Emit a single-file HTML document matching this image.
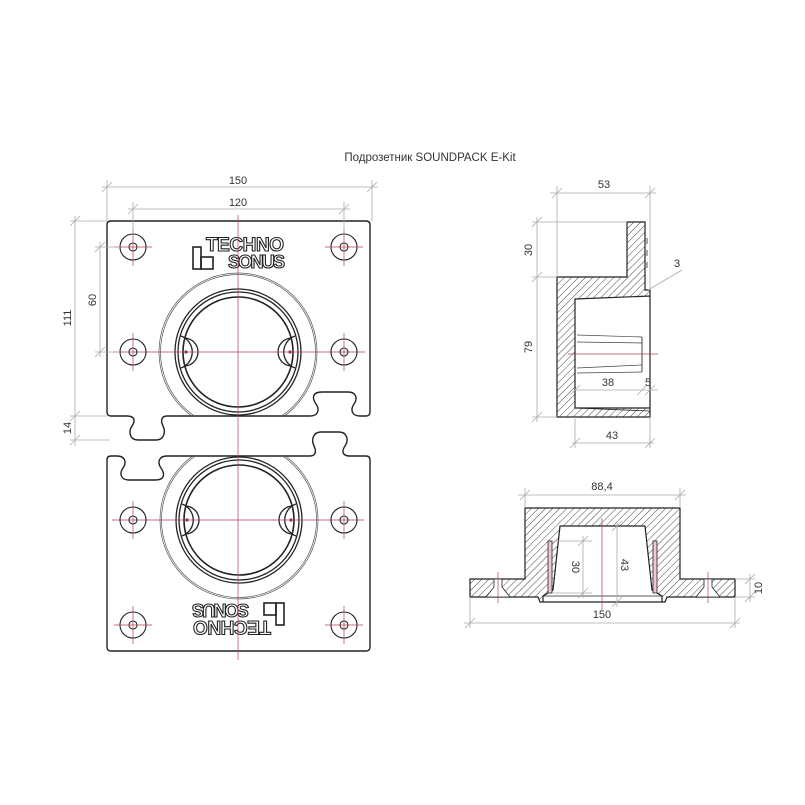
<!DOCTYPE html>
<html><head><meta charset="utf-8"><style>
html,body{margin:0;padding:0;background:#fff}
svg{display:block}
.d{stroke:#aaa;stroke-width:0.8;fill:none}
.t{font-family:"Liberation Sans Narrow","Liberation Sans",sans-serif;font-size:11px;fill:#333}
.o{stroke:#222;stroke-width:1.3;fill:none}
.r{stroke:#b04050;stroke-width:0.7;fill:none}
</style></head><body>
<svg width="805" height="805" viewBox="0 0 805 805" xmlns="http://www.w3.org/2000/svg">
<defs>
<pattern id="h" width="5" height="5" patternUnits="userSpaceOnUse" patternTransform="rotate(45)">
<rect width="5" height="5" fill="#fff"/><line x1="0" y1="0" x2="0" y2="5" stroke="#333" stroke-width="0.9"/>
</pattern>
<path id="pl" d="M111,221 H366 Q370,221 370,225 V412 Q370,416 366,416 H360 C352,416 350,410 354,404 C358,398 356,392 348,392 L322,392 C312,392 312,398 316,404 C320,410 318,416 310,416 L167,416 C162,416 160,420 163,426 C166,432 164,440 156,440 L138,440 C130,440 128,432 132,426 C136,420 134,416 127,416 L111,416 Q107,416 107,412 V225 Q107,221 111,221 Z"/>
<clipPath id="cp"><use href="#pl"/></clipPath>
<g id="plate">
<use href="#pl" class="o" style="stroke-width:1.4"/>
<g clip-path="url(#cp)">
<circle cx="238" cy="352" r="79" fill="none" stroke="#555" stroke-width="0.7"/>
<circle cx="238" cy="352" r="77.5" fill="none" stroke="#555" stroke-width="0.7"/>
</g>
<circle cx="238" cy="352" r="63" class="o"/>
<circle cx="238" cy="352" r="60" class="o"/>
<circle cx="238" cy="352" r="55" class="o" style="stroke-width:1.6"/>
<path d="M184,338 A14,14 0 0 1 184,366" class="o"/>
<path d="M181,336 A17,17 0 0 1 181,368" class="o"/>
<path d="M292,338 A14,14 0 0 0 292,366" class="o"/>
<path d="M295,336 A17,17 0 0 0 295,368" class="o"/>
<circle cx="186" cy="352" r="1.6" fill="#903040"/>
<circle cx="290" cy="352" r="1.6" fill="#903040"/>
<line x1="113" y1="352" x2="365" y2="352" class="r"/>
<g class="o" style="stroke-width:1.1">
<circle cx="133" cy="247" r="13"/><circle cx="133" cy="247" r="4"/>
<circle cx="344" cy="247" r="13"/><circle cx="344" cy="247" r="4"/>
<circle cx="133" cy="352" r="13"/><circle cx="133" cy="352" r="4"/>
<circle cx="344" cy="352" r="13"/><circle cx="344" cy="352" r="4"/>
</g>
<g class="r">
<line x1="114" y1="247" x2="152" y2="247"/><line x1="133" y1="228" x2="133" y2="266"/>
<line x1="325" y1="247" x2="363" y2="247"/><line x1="344" y1="228" x2="344" y2="266"/>
<line x1="133" y1="333" x2="133" y2="371"/><line x1="344" y1="333" x2="344" y2="371"/>
</g>
<rect x="193" y="247" width="8" height="22" class="o" style="stroke-width:1.6"/>
<rect x="201" y="257" width="12" height="12" class="o" style="stroke-width:1.6"/>
<text x="206" y="251" font-family="Liberation Sans,sans-serif" font-weight="bold" font-size="19" fill="#fff" stroke="#222" stroke-width="1.1" textLength="78">TECHNO</text>
<text x="228" y="268" font-family="Liberation Sans,sans-serif" font-weight="bold" font-size="18" fill="#fff" stroke="#222" stroke-width="1.1" textLength="57">SONUS</text>
</g>
</defs>

<text x="430" y="161" class="t" text-anchor="middle" style="font-size:11.5px">Подрозетник SOUNDPACK E-Kit</text>

<use href="#plate"/>
<use href="#plate" transform="rotate(180 238.5 436)"/>
<line x1="238" y1="215" x2="238" y2="660" class="r"/>

<g class="d">
<line x1="102" y1="187" x2="378" y2="187"/><line x1="107" y1="180" x2="107" y2="221"/><line x1="372" y1="180" x2="372" y2="221"/>
<line x1="102" y1="192" x2="112" y2="182"/><line x1="367" y1="192" x2="377" y2="182"/>
<line x1="128" y1="209" x2="350" y2="209"/><line x1="133" y1="202" x2="133" y2="234"/><line x1="344" y1="202" x2="344" y2="234"/>
<line x1="128" y1="214" x2="138" y2="204"/><line x1="339" y1="214" x2="349" y2="204"/>
<line x1="75" y1="216" x2="75" y2="446"/><line x1="70" y1="221" x2="107" y2="221"/><line x1="70" y1="416" x2="107" y2="416"/><line x1="70" y1="440" x2="110" y2="440"/>
<line x1="70" y1="226" x2="80" y2="216"/><line x1="70" y1="421" x2="80" y2="411"/><line x1="70" y1="445" x2="80" y2="435"/>
<line x1="100" y1="242" x2="100" y2="357"/><line x1="95" y1="247" x2="120" y2="247"/><line x1="95" y1="352" x2="120" y2="352"/>
<line x1="95" y1="252" x2="105" y2="242"/><line x1="95" y1="357" x2="105" y2="347"/>
</g>
<text x="238" y="184" class="t" text-anchor="middle">150</text>
<text x="238" y="206" class="t" text-anchor="middle">120</text>
<text class="t" text-anchor="middle" transform="translate(71,318) rotate(-90)">111</text>
<text class="t" text-anchor="middle" transform="translate(96,300) rotate(-90)">60</text>
<text class="t" text-anchor="middle" transform="translate(71,428) rotate(-90)">14</text>

<path d="M557,277 L627,277 L627,222 L645,222 L645,290 L650,290 L650,417 L557,417 Z M575,299 L650,296 L650,408 L575,408 Z" fill="url(#h)" fill-rule="evenodd" stroke="#222" stroke-width="1.2"/>
<line x1="575" y1="408" x2="650" y2="411" stroke="#222" stroke-width="0.8"/>
<g stroke="#444" stroke-width="0.7">
<line x1="577" y1="335" x2="642" y2="337"/><line x1="577" y1="342" x2="642" y2="343"/>
<line x1="577" y1="368" x2="642" y2="365"/><line x1="577" y1="373" x2="642" y2="372"/>
<line x1="642" y1="337" x2="642" y2="372" stroke-width="1"/>
</g>
<line x1="568" y1="354" x2="658" y2="354" class="r"/>
<g stroke="#555" stroke-width="1"><line x1="647" y1="238" x2="647" y2="244"/><line x1="647" y1="250" x2="647" y2="256"/><line x1="647" y1="262" x2="647" y2="268"/></g>
<g class="d">
<line x1="550" y1="193" x2="656" y2="193"/><line x1="557" y1="186" x2="557" y2="277"/><line x1="650" y1="186" x2="650" y2="290"/>
<line x1="552" y1="198" x2="562" y2="188"/><line x1="645" y1="198" x2="655" y2="188"/>
<line x1="537" y1="217" x2="537" y2="422"/><line x1="532" y1="222" x2="627" y2="222"/><line x1="532" y1="277" x2="557" y2="277"/><line x1="532" y1="417" x2="557" y2="417"/>
<line x1="532" y1="227" x2="542" y2="217"/><line x1="532" y1="282" x2="542" y2="272"/><line x1="532" y1="422" x2="542" y2="412"/>
<line x1="575" y1="390" x2="658" y2="390"/><line x1="570" y1="395" x2="580" y2="385"/><line x1="637" y1="395" x2="647" y2="385"/><line x1="645" y1="395" x2="655" y2="385"/>
<line x1="575" y1="417" x2="575" y2="448"/><line x1="650" y1="417" x2="650" y2="448"/>
<line x1="572" y1="443" x2="654" y2="443"/><line x1="570" y1="448" x2="580" y2="438"/><line x1="645" y1="448" x2="655" y2="438"/>
<line x1="648" y1="290" x2="682" y2="270"/>
</g>
<text x="604" y="188" class="t" text-anchor="middle">53</text>
<text x="608" y="386" class="t" text-anchor="middle">38</text>
<text x="648" y="386" class="t" text-anchor="middle">5</text>
<text x="612" y="439" class="t" text-anchor="middle">43</text>
<text x="677" y="267" class="t" text-anchor="middle">3</text>
<text class="t" text-anchor="middle" transform="translate(532,250) rotate(-90)">30</text>
<text class="t" text-anchor="middle" transform="translate(532,347) rotate(-90)">79</text>

<path d="M525,508 L680,508 L680,579 L735,579 L735,597 L667,597 L665,602 L540,602 L538,597 L470,597 L470,579 L525,579 Z M560,526 L645,526 L652,590 L662,596 L662,602 L543,602 L543,596 L553,590 Z" fill="url(#h)" fill-rule="evenodd" stroke="#222" stroke-width="1.2"/>
<line x1="543" y1="596" x2="662" y2="596" stroke="#222" stroke-width="0.8"/>
<rect x="548" y="541" width="4" height="52" fill="#f0c8d0" stroke="#222" stroke-width="0.8"/>
<rect x="653" y="541" width="4" height="52" fill="#f0c8d0" stroke="#222" stroke-width="0.8"/>
<path d="M494,579 L502,579 L502,587 L510,597 L486,597 L494,587 Z" fill="#fff" stroke="#222" stroke-width="0.8"/>
<path d="M704,579 L712,579 L712,587 L720,597 L696,597 L704,587 Z" fill="#fff" stroke="#222" stroke-width="0.8"/>
<g class="r"><line x1="498" y1="572" x2="498" y2="603"/><line x1="708" y1="572" x2="708" y2="603"/><line x1="602" y1="518" x2="602" y2="610"/></g>
<g class="d">
<line x1="518" y1="495" x2="686" y2="495"/><line x1="525" y1="488" x2="525" y2="508"/><line x1="680" y1="488" x2="680" y2="508"/>
<line x1="520" y1="500" x2="530" y2="490"/><line x1="675" y1="500" x2="685" y2="490"/>
<line x1="464" y1="623" x2="740" y2="623"/><line x1="470" y1="597" x2="470" y2="628"/><line x1="735" y1="597" x2="735" y2="628"/>
<line x1="465" y1="628" x2="475" y2="618"/><line x1="730" y1="628" x2="740" y2="618"/>
<line x1="750" y1="574" x2="750" y2="602"/><line x1="735" y1="579" x2="755" y2="579"/><line x1="735" y1="597" x2="755" y2="597"/>
<line x1="745" y1="584" x2="755" y2="574"/><line x1="745" y1="602" x2="755" y2="592"/>
<line x1="583" y1="536" x2="583" y2="598"/><line x1="552" y1="541" x2="592" y2="541"/><line x1="552" y1="593" x2="592" y2="593"/>
<line x1="578" y1="546" x2="588" y2="536"/><line x1="578" y1="598" x2="588" y2="588"/>
<line x1="617" y1="521" x2="617" y2="607"/><line x1="612" y1="531" x2="622" y2="521"/><line x1="612" y1="607" x2="622" y2="597"/>
</g>
<text x="602" y="490" class="t" text-anchor="middle">88,4</text>
<text x="602" y="618" class="t" text-anchor="middle">150</text>
<text class="t" text-anchor="middle" transform="translate(572,567) rotate(90)">30</text>
<text class="t" text-anchor="middle" transform="translate(621,565) rotate(90)">43</text>
<text class="t" text-anchor="middle" transform="translate(762,588) rotate(-90)">10</text>
</svg>
</body></html>
